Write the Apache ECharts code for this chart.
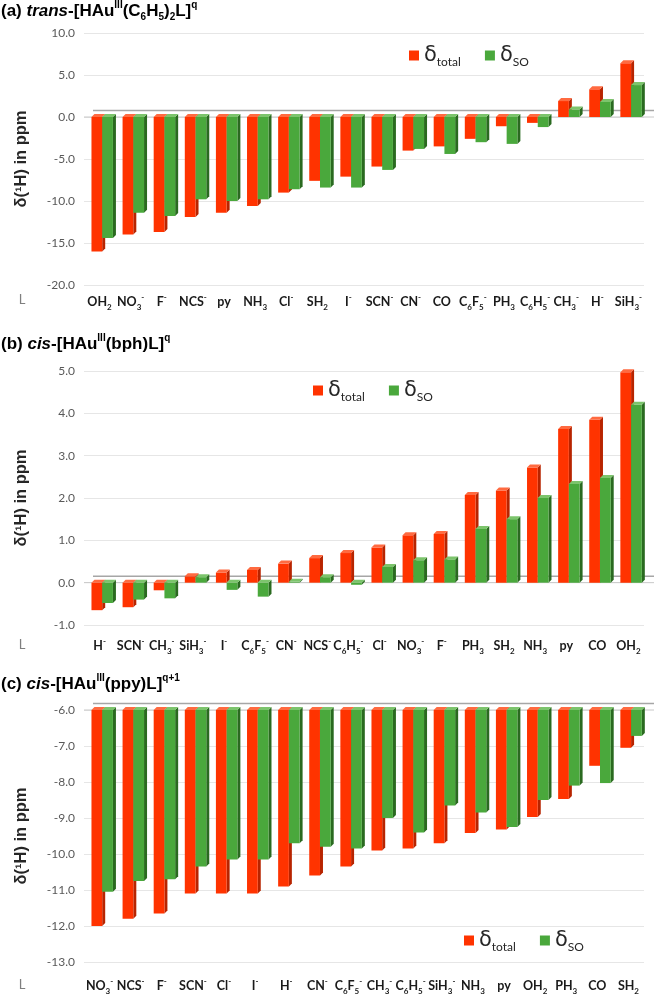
<!DOCTYPE html>
<html><head><meta charset="utf-8">
<script src="https://cdn.jsdelivr.net/npm/echarts@6/dist/echarts.min.js"></script>
<style>html,body{margin:0;padding:0;background:#fff}#c{width:654px;height:1004px}</style>
</head><body><div id="c"></div>
<script>
// ---- data ----
const catsA = ['OH2','NO3-','F-','NCS-','py','NH3','Cl-','SH2','I-','SCN-','CN-','CO','C6F5-','PH3','C6H5-','CH3-','H-','SiH3-'];
const totalA = [-16.0,-14.0,-13.7,-11.9,-11.4,-10.6,-9.0,-7.6,-7.1,-5.9,-4.0,-3.5,-2.6,-1.1,-0.7,1.9,3.3,6.4];
const soA = [-14.4,-11.4,-11.8,-9.8,-10.0,-9.8,-8.6,-8.4,-8.4,-6.3,-3.8,-4.4,-3.0,-3.2,-1.2,0.9,1.8,3.8];

const catsB = ['H-','SCN-','CH3-','SiH3-','I-','C6F5-','CN-','NCS-','C6H5-','Cl-','NO3-','F-','PH3','SH2','NH3','py','CO','OH2'];
const totalB = [-0.65,-0.58,-0.18,0.15,0.24,0.30,0.45,0.58,0.70,0.83,1.12,1.15,2.07,2.18,2.72,3.63,3.85,4.97];
const soB = [-0.48,-0.40,-0.37,0.13,-0.17,-0.33,0.02,0.13,-0.05,0.37,0.53,0.55,1.27,1.50,2.00,2.33,2.47,4.20];

const catsC = ['NO3-','NCS-','F-','SCN-','Cl-','I-','H-','CN-','C6F5-','CH3-','C6H5-','SiH3-','NH3','py','OH2','PH3','CO','SH2'];
const totalC = [-12.0,-11.8,-11.65,-11.1,-11.1,-11.1,-10.9,-10.6,-10.35,-9.9,-9.85,-9.7,-9.42,-9.32,-8.97,-8.47,-7.55,-7.05];
const soC = [-11.05,-10.75,-10.7,-10.35,-10.15,-10.15,-9.7,-9.8,-9.85,-9.0,-9.4,-8.65,-8.85,-9.25,-8.5,-8.1,-8.03,-6.72];

const yMinMaxStep = [[-20, 10, 5], [-1, 5, 1], [-13, -6, 1]];
const baselines = [0, 0, -6];
const seriesNames = ['δtotal', 'δSO'];

// ---- styles ----
const RED = {front:'#ff3300', side:'#b82400', top:'#ff6a40'};
const GREEN = {front:'#4aa83c', side:'#2a6a20', top:'#7cc46c'};
const LABEL_FONT = 'Lato';
const TICK_FONT = 'Lato';

function chem(s) {
  let out = '';
  const re = /([A-Za-z()]+)|(\d+)|(-)/g; let m;
  while ((m = re.exec(s))) {
    if (m[1]) out += '{m|' + m[1] + '}';
    else if (m[2]) out += '{sub|' + m[2] + '}';
    else out += '{sup|-}';
  }
  return out;
}
const catRich = {
  m: {fontSize: 12.5, fontWeight: 'bold', fontFamily: LABEL_FONT, color: '#1a1a1a', lineHeight: 18, verticalAlign: 'middle'},
  sub: {fontSize: 8, fontWeight: 'bold', fontFamily: LABEL_FONT, color: '#1a1a1a', lineHeight: 10, verticalAlign: 'bottom'},
  sup: {fontSize: 8, fontWeight: 'bold', fontFamily: LABEL_FONT, color: '#1a1a1a', lineHeight: 10, verticalAlign: 'top'}
};

function bar3d(slot, base, cols) {
  return function (params, api) {
    const i = api.value(0), v = api.value(1);
    const pv = api.coord([i, v]), pb = api.coord([i, base]);
    const w = api.size([1, 0])[0];
    const c = pv[0];
    const bw = w * 0.345;
    const x0 = c - w * 0.26 + slot * bw;
    const x1 = x0 + bw;
    const yTop = Math.min(pv[1], pb[1]), yBot = Math.max(pv[1], pb[1]);
    const dx = 3, dy = -3;
    return {type: 'group', children: [
      {type: 'polygon', shape: {points: [[x1, yTop], [x1 + dx, yTop + dy], [x1 + dx, yBot + dy], [x1, yBot]]}, style: {fill: cols.side}},
      {type: 'rect', shape: {x: x0, y: yTop, width: bw, height: yBot - yTop}, style: {fill: cols.front}},
      {type: 'polygon', shape: {points: [[x0, yTop], [x0 + dx, yTop + dy], [x1 + dx, yTop + dy], [x1, yTop]]}, style: {fill: cols.top}}
    ]};
  };
}
function floorItem(base) {
  return function (params, api) {
    const cs = params.coordSys;
    const y = api.coord([0, base])[1];
    return {type: 'group', children: [
      {type: 'line', shape: {x1: cs.x + 9, y1: y - 6.5, x2: cs.x + cs.width + 12, y2: y - 6.5}, style: {stroke: '#a6a6a6', lineWidth: 1.5}},
      {type: 'line', shape: {x1: cs.x, y1: y, x2: cs.x + cs.width + 12, y2: y}, style: {stroke: '#c8c8c8', lineWidth: 1}}
    ]};
  };
}

const grids = [
  {left: 84, right: 10, top: 33, height: 252},
  {left: 84, right: 10, top: 371, height: 254},
  {left: 84, right: 10, top: 710, height: 252}
];
const cats = [catsA, catsB, catsC];
const totals = [totalA, totalB, totalC];
const sos = [soA, soB, soC];
const labelMargins = [8, 12, 15];
const legendPos = [{left: 404, top: 40}, {left: 308, top: 375}, {left: 459, top: 925}];

const xAxis = [], yAxis = [], series = [], legend = [];
for (let g = 0; g < 3; g++) {
  xAxis.push({type: 'category', gridIndex: g, data: cats[g], axisLine: {show: false}, axisTick: {show: false},
    axisLabel: {interval: 0, margin: labelMargins[g], formatter: chem, rich: catRich}});
  yAxis.push({type: 'value', gridIndex: g, min: yMinMaxStep[g][0], max: yMinMaxStep[g][1], interval: yMinMaxStep[g][2],
    name: 'δ(¹H) in ppm', nameLocation: 'middle', nameGap: 54,
    nameTextStyle: {fontSize: 16.5, fontWeight: 'bold', fontFamily: 'Liberation Sans', color: '#262626'},
    axisLine: {show: false}, axisTick: {show: false},
    axisLabel: {formatter: v => v.toFixed(1), fontSize: 12, color: '#595959', fontFamily: TICK_FONT, margin: 9},
    splitLine: {lineStyle: {color: '#e6e6e6', width: 1}}});
  const tName = seriesNames[0] + '_' + g, sName = seriesNames[1] + '_' + g;
  series.push({type: 'custom', name: 'floor' + g, xAxisIndex: g, yAxisIndex: g, renderItem: floorItem(baselines[g]), data: [[0, baselines[g]]], silent: true, z: 1});
  series.push({type: 'custom', name: tName, xAxisIndex: g, yAxisIndex: g, renderItem: bar3d(0, baselines[g], RED),
    itemStyle: {color: RED.front}, data: totals[g].map((v, i) => [i, v]), z: 2});
  series.push({type: 'custom', name: sName, xAxisIndex: g, yAxisIndex: g, renderItem: bar3d(1, baselines[g], GREEN),
    itemStyle: {color: GREEN.front}, data: sos[g].map((v, i) => [i, v]), z: 3});
  legend.push(Object.assign({data: [tName, sName], icon: 'rect', itemWidth: 10, itemHeight: 10, itemGap: 24,
    formatter: n => n.startsWith(seriesNames[0]) ? '{d|δ}{s|total}' : '{d|δ}{s|SO}',
    textStyle: {rich: {
      d: {fontSize: 21, fontFamily: 'DejaVu Sans', color: '#262626', lineHeight: 26, verticalAlign: 'middle'},
      s: {fontSize: 12, fontFamily: 'Lato', color: '#262626', lineHeight: 12, verticalAlign: 'bottom'}
    }}}, legendPos[g]));
}

const titleRich = {
  b: {fontSize: 17, fontWeight: 'bold', fontFamily: 'Liberation Sans', color: '#111', lineHeight: 22, verticalAlign: 'middle'},
  i: {fontSize: 17, fontWeight: 'bold', fontStyle: 'italic', fontFamily: 'Liberation Sans', color: '#111', lineHeight: 22, verticalAlign: 'middle'},
  sup: {fontSize: 10, fontWeight: 'bold', fontFamily: 'Liberation Sans', color: '#111', lineHeight: 11, verticalAlign: 'top'},
  sub: {fontSize: 10, fontWeight: 'bold', fontFamily: 'Liberation Sans', color: '#111', lineHeight: 12, verticalAlign: 'bottom'}
};
const titles = [
  '{b|(a) }{i|trans}{b|-[HAu}{sup|III}{b|(C}{sub|6}{b|H}{sub|5}{b|)}{sub|2}{b|L]}{sup|q}',
  '{b|(b) }{i|cis}{b|-[HAu}{sup|III}{b|(bph)L]}{sup|q}',
  '{b|(c) }{i|cis}{b|-[HAu}{sup|III}{b|(ppy)L]}{sup|q+1}'
];
const titleY = [0, 333, 673];
const lY = [300, 645, 985];
const graphic = [];
for (let g = 0; g < 3; g++) {
  graphic.push({type: 'text', left: 1, top: titleY[g], style: {text: titles[g], rich: titleRich}});
  graphic.push({type: 'text', x: 22, y: lY[g], style: {text: 'L', fontSize: 13, fontFamily: 'Lato', fill: '#7f7f7f', align: 'center', verticalAlign: 'middle'}});
}

const chart = echarts.init(document.getElementById('c'), null, {renderer: 'canvas'});
chart.setOption({animation: false, grid: grids, xAxis, yAxis, series, legend, graphic});
</script></body></html>
